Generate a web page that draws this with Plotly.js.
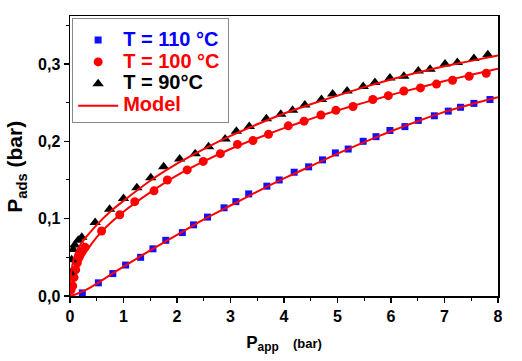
<!DOCTYPE html>
<html>
<head>
<meta charset="utf-8">
<script src="https://cdn.plot.ly/plotly-3.0.1.min.js"></script>
<style>html,body{margin:0;padding:0;background:#fff;}#chart{width:522px;height:361px;}</style>
</head>
<body>
<div id="chart"></div>
<script>
// T = 110 °C
const x110 = [0.23,0.53,0.80,1.04,1.32,1.55,1.79,2.10,2.31,2.57,2.88,3.10,3.34,3.68,3.91,4.19,4.46,4.72,4.96,5.20,5.48,5.72,5.98,6.26,6.51,6.81,7.07,7.30,7.55,7.85];
const y110 = [0.004,0.017,0.029,0.040,0.050,0.061,0.072,0.082,0.092,0.102,0.114,0.122,0.132,0.142,0.150,0.160,0.167,0.176,0.185,0.190,0.200,0.206,0.214,0.219,0.227,0.233,0.239,0.244,0.249,0.254];
// T = 100 °C
const x100 = [0.02,0.05,0.075,0.106,0.137,0.17,0.20,0.28,0.59,0.93,1.21,1.57,1.82,2.19,2.49,2.81,3.13,3.42,3.71,4.08,4.375,4.69,4.97,5.29,5.66,5.95,6.24,6.55,6.85,7.15,7.46,7.78];
const y100 = [0.008,0.013,0.024,0.034,0.043,0.050,0.057,0.063,0.084,0.105,0.122,0.136,0.150,0.163,0.174,0.184,0.196,0.201,0.209,0.220,0.226,0.234,0.240,0.245,0.254,0.259,0.265,0.269,0.274,0.279,0.284,0.288];
// T = 90 °C
const x90 = [0.01,0.03,0.06,0.09,0.155,0.22,0.47,0.74,1.0,1.25,1.51,1.75,2.05,2.34,2.59,2.90,3.11,3.35,3.67,3.94,4.16,4.39,4.70,4.91,5.18,5.48,5.70,5.98,6.24,6.51,6.73,7.01,7.24,7.55,7.81];
const y90 = [0.030,0.047,0.060,0.066,0.072,0.076,0.095,0.112,0.126,0.140,0.153,0.167,0.177,0.184,0.193,0.203,0.213,0.219,0.229,0.235,0.240,0.247,0.254,0.261,0.265,0.271,0.276,0.282,0.284,0.291,0.293,0.300,0.302,0.307,0.312];
// Model curves
const modelX = [0,0.02,0.05,0.1,0.2,0.3,0.5,0.75,1,1.5,2,2.5,3,3.5,4,4.5,5,5.5,6,6.5,7,7.5,8];
const model110 = [0,0.0005,0.001,0.002,0.005,0.008,0.016,0.027,0.038,0.059,0.079,0.099,0.117,0.135,0.152,0.168,0.184,0.199,0.213,0.226,0.238,0.248,0.257];
const model100 = [0,0.007,0.015,0.027,0.045,0.057,0.076,0.094,0.109,0.134,0.156,0.174,0.190,0.204,0.217,0.229,0.240,0.250,0.260,0.269,0.278,0.286,0.294];
const model90 = [0,0.028,0.042,0.054,0.067,0.076,0.092,0.109,0.123,0.149,0.171,0.190,0.207,0.222,0.236,0.248,0.259,0.270,0.280,0.289,0.297,0.304,0.311];

const names = ["T = 110 °C","T = 100 °C","T = 90°C","Model"];
const xTitle = "P<sub>app</sub>   <span style='font-size:13px'>(bar)</span>";
const yTitle = "P<sub>ads</sub> (bar)";

const F = 'Liberation Sans, Arial, sans-serif';
function nm(t,c){return "<span style='color:"+c+";font-size:20px'>"+t+"</span>";}
const lineStyle = {color:'#ff0000',width:2,shape:'spline',smoothing:0.6};
const traces = [
  {x:x110,y:y110,mode:'markers',type:'scatter',name:nm(names[0],'#0000ff')+"&nbsp;",
   marker:{symbol:'square',size:7,color:'#1010ff'}},
  {x:x100,y:y100,mode:'markers',type:'scatter',name:nm(names[1],'#ff0000'),
   marker:{symbol:'circle',size:9,color:'#ff0000'}},
  {x:x90,y:y90,mode:'markers',type:'scatter',name:nm(names[2],'#000000'),
   marker:{symbol:'triangle-up',size:10,color:'#000000'}},
  {x:modelX,y:model110,mode:'lines',type:'scatter',name:nm(names[3],'#ff0000'),line:lineStyle},
  {x:modelX,y:model100,mode:'lines',type:'scatter',showlegend:false,line:lineStyle},
  {x:modelX,y:model90,mode:'lines',type:'scatter',showlegend:false,line:lineStyle}
];

const layout = {
  width:522,height:361,
  margin:{l:70,r:24,t:16,b:65},
  paper_bgcolor:'#fff',plot_bgcolor:'#fff',
  separators:',.',
  showlegend:true,
  font:{family:F,size:16,color:'#000',weight:'bold'},
  xaxis:{range:[0,8],dtick:1,tick0:0,showgrid:false,zeroline:false,
    showline:true,linecolor:'#000',linewidth:1.5,mirror:true,
    ticks:'outside',ticklen:5,tickwidth:1.5,tickcolor:'#000',
    minor:{ticks:'outside',ticklen:3,dtick:0.5,tickwidth:1,tickcolor:'#000'},
    tickfont:{family:F,size:16,weight:'bold'},
    title:{text:xTitle,font:{family:F,size:17,weight:'bold'},standoff:12}},
  yaxis:{range:[0,0.362],dtick:0.1,tick0:0,tickformat:'.1f',showgrid:false,zeroline:false,
    showline:true,linecolor:'#000',linewidth:1.5,mirror:true,
    ticks:'outside',ticklen:5,tickwidth:1.5,tickcolor:'#000',
    minor:{ticks:'outside',ticklen:3,dtick:0.05,tickwidth:1,tickcolor:'#000'},
    tickfont:{family:F,size:16,weight:'bold'}},
  annotations:[{text:yTitle,xref:'paper',yref:'paper',x:-0.125,y:0.46,xanchor:'center',yanchor:'middle',
    textangle:-90,showarrow:false,font:{family:F,size:21,weight:'bold',color:'#000'}}],
  legend:{x:0.005,y:0.993,xanchor:'left',yanchor:'top',bgcolor:'rgba(255,255,255,0)',
    bordercolor:'#888',borderwidth:1,itemwidth:40,
    title:{text:' ',font:{size:4}},
    font:{family:F,size:14.5,weight:'bold'},tracegroupgap:0}
};

Plotly.newPlot('chart',traces,layout,{staticPlot:true,displayModeBar:false});
</script>
</body>
</html>
